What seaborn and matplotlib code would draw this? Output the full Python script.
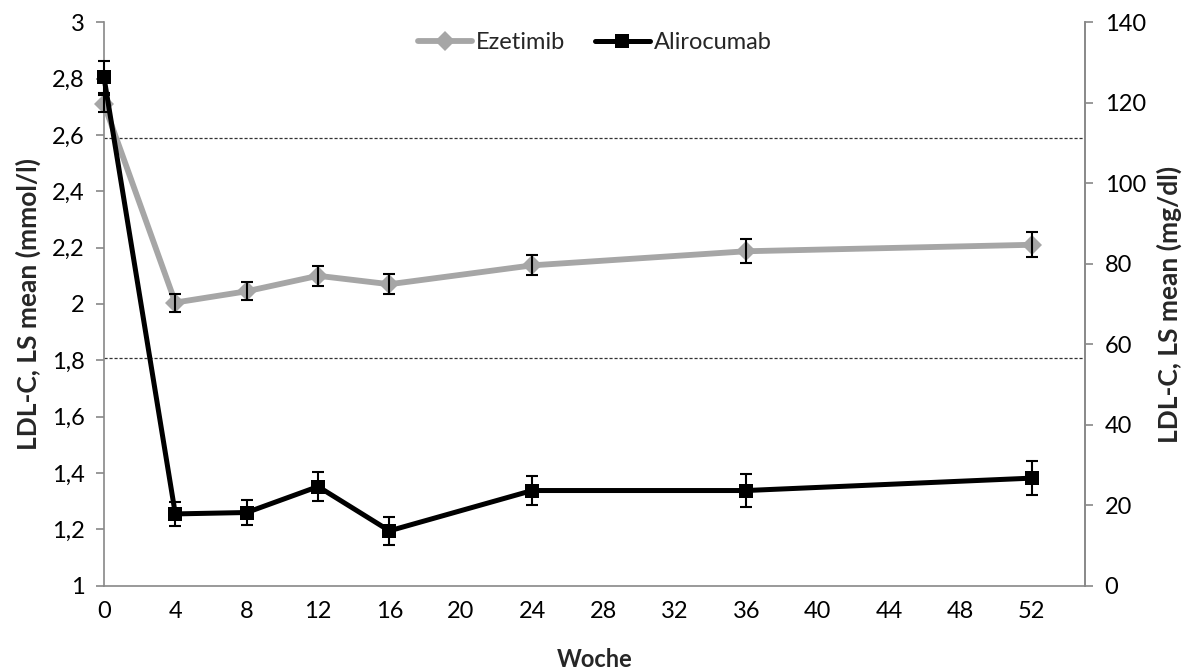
import matplotlib
matplotlib.use("Agg")
import matplotlib.pyplot as plt
import seaborn as sns
import pandas as pd
from matplotlib.lines import Line2D

weeks = [0, 4, 8, 12, 16, 24, 36, 52]
ezetimib = [2.71, 2.005, 2.045, 2.10, 2.07, 2.137, 2.187, 2.21]
ezetimib_err = [0.03, 0.032, 0.032, 0.036, 0.035, 0.036, 0.042, 0.044]
alirocumab = [2.805, 1.255, 1.26, 1.352, 1.195, 1.338, 1.338, 1.382]
alirocumab_err = [0.057, 0.043, 0.044, 0.05, 0.05, 0.05, 0.058, 0.06]
ref_lines = [2.59, 1.81]
series_names = ["Ezetimib", "Alirocumab"]

sns.set_theme(style="white")
plt.rcParams["font.family"] = ["Lato", "DejaVu Sans"]

df = pd.DataFrame({
    "Woche": weeks * 2,
    "value": ezetimib + alirocumab,
    "err": ezetimib_err + alirocumab_err,
    "Gruppe": [series_names[0]] * len(weeks) + [series_names[1]] * len(weeks),
})

colors = {"Ezetimib": "#A6A6A6", "Alirocumab": "#000000"}
markers = {"Ezetimib": "D", "Alirocumab": "s"}
msizes = {"Ezetimib": 10.5, "Alirocumab": 9.5}
lws = {"Ezetimib": 4.2, "Alirocumab": 3.6}

fig = plt.figure(figsize=(11.88, 6.71), dpi=100)
ax = fig.add_axes([0.0875, 0.127, 0.826, 0.840])

for y in ref_lines:
    ax.axhline(y, color="#333333", lw=0.9, ls=(0, (2.5, 1.5)), zorder=1)

for name in series_names:
    sub = df[df["Gruppe"] == name]
    sns.lineplot(data=sub, x="Woche", y="value", ax=ax, color=colors[name],
                 marker=markers[name], markersize=msizes[name], markeredgewidth=0,
                 linewidth=lws[name], legend=False, zorder=3, clip_on=False)
    ax.errorbar(sub["Woche"], sub["value"], yerr=sub["err"], fmt="none",
                ecolor="black", elinewidth=1.5, capsize=4.5, capthick=1.5, zorder=4,
                clip_on=False)

ax.set_xlim(0, 55)
ax.set_ylim(1, 3)
ax.set_xticks(range(0, 53, 4))
ax.set_yticks([1, 1.2, 1.4, 1.6, 1.8, 2, 2.2, 2.4, 2.6, 2.8, 3])
ax.set_yticklabels(["1", "1,2", "1,4", "1,6", "1,8", "2", "2,2", "2,4", "2,6", "2,8", "3"])
ax.set_xlabel("Woche", fontsize=17, fontweight="bold", labelpad=19)
ax.set_ylabel("LDL-C, LS mean (mmol/l)", fontsize=19, fontweight="bold", labelpad=8)

ax.spines["top"].set_visible(False)
for s in ["left", "bottom", "right"]:
    ax.spines[s].set_color("#888888")
    ax.spines[s].set_linewidth(1.2)
ax.tick_params(axis="both", direction="out", length=6, width=1.2, color="#888888",
               labelsize=17, labelcolor="black", pad=8)
ax.tick_params(axis="x", pad=5)

ax2 = ax.twinx()
ax2.set_ylim(0, 140)
ax2.set_yticks(range(0, 141, 20))
ax2.set_ylabel("LDL-C, LS mean (mg/dl)", fontsize=19, fontweight="bold", labelpad=8)
for s in ["top", "left", "bottom"]:
    ax2.spines[s].set_visible(False)
ax2.spines["right"].set_color("#888888")
ax2.spines["right"].set_linewidth(1.2)
ax2.tick_params(axis="y", direction="out", length=6, width=1.2, color="#888888",
                labelsize=17, labelcolor="black", pad=8)

handles = [Line2D([0], [0], color=colors[n], lw=lws[n], marker=markers[n],
                  markersize=msizes[n], markeredgewidth=0) for n in series_names]
ax.legend(handles, series_names, loc="upper center", bbox_to_anchor=(0.5, 1.02),
          ncol=2, frameon=False, fontsize=17, handlelength=2.3, handletextpad=0.17,
          columnspacing=1.27)

fig.savefig("out.png", dpi=100)
